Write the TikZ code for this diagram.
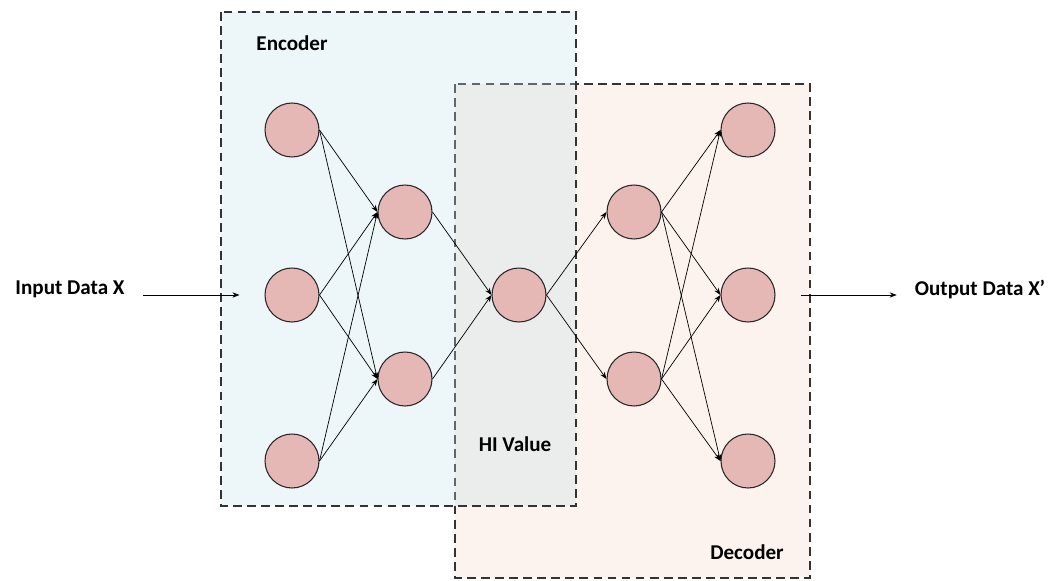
\documentclass[tikz,border=0pt]{standalone}
\usepackage{fontspec}
\setmainfont{Carlito}
\usepackage{tikz}
\usetikzlibrary{arrows.meta}

\definecolor{encfill}{RGB}{196,224,234}
\definecolor{decfill}{RGB}{252,243,238}
\definecolor{neuron}{RGB}{229,184,181}

\tikzset{
  unit/.style={circle,draw=black!85,fill=neuron,line width=0.6pt,minimum size=1.08cm,inner sep=0pt},
  wire/.style={-{Stealth[length=4pt,width=3pt]},line width=0.4pt},
  region/.style={dash pattern=on 5pt off 3pt,line width=0.7pt,draw=black!80},
  lbl/.style={font=\bfseries\fontsize{12}{14}\selectfont}
}

\begin{document}
\begin{tikzpicture}[x=0.02cm,y=-0.02cm]
   \useasboundingbox (0,0) rectangle (1062,581);

   % the two boxes, encoder drawn over decoder
   \draw[region,fill=decfill] (455,84) rectangle (810,578);
   \fill[encfill,fill opacity=0.3] (221,12) rectangle (576,506);
   \draw[region] (221,12) rectangle (576,506);

   \node[lbl] (enc) at (292,43) {Encoder};
   \node[lbl] (hiv) at (515,444) {HI Value};
   \node[lbl] (dec) at (747,552) {Decoder};

   % neurons
   \node[unit] (l1a) at (292,130) {};
   \node[unit] (l1b) at (292,295) {};
   \node[unit] (l1c) at (292,461) {};
   \node[unit] (l2a) at (405,212) {};
   \node[unit] (l2b) at (405,379) {};
   \node[unit] (hi)  at (519,295) {};
   \node[unit] (l4a) at (634,212) {};
   \node[unit] (l4b) at (634,379) {};
   \node[unit] (l5a) at (748,130) {};
   \node[unit] (l5b) at (748,295) {};
   \node[unit] (l5c) at (748,461) {};

   \foreach \s in {l1a,l1b,l1c}
     \foreach \t in {l2a,l2b}
       \draw[wire] (\s.east) -- (\t.west);
   \foreach \s in {l2a,l2b}
     \draw[wire] (\s.east) -- (hi.west);
   \foreach \t in {l4a,l4b}
     \draw[wire] (hi.east) -- (\t.west);
   \foreach \s in {l4a,l4b}
     \foreach \t in {l5a,l5b,l5c}
       \draw[wire] (\s.east) -- (\t.west);

   % input and output
   \node[lbl] (inp) at (70,289) {Input Data X};
   \node[lbl] (outp) at (980,289) {Output Data X’};
   \draw[wire,shorten >=0.5cm] (inp.east |- l1b) ++(12,0) -- (l1b.west);
   \draw[wire,shorten <=0.5cm] (l5b.east) -- ([xshift=-0.24cm]outp.west |- l5b);
 \end{tikzpicture}
\end{document}
